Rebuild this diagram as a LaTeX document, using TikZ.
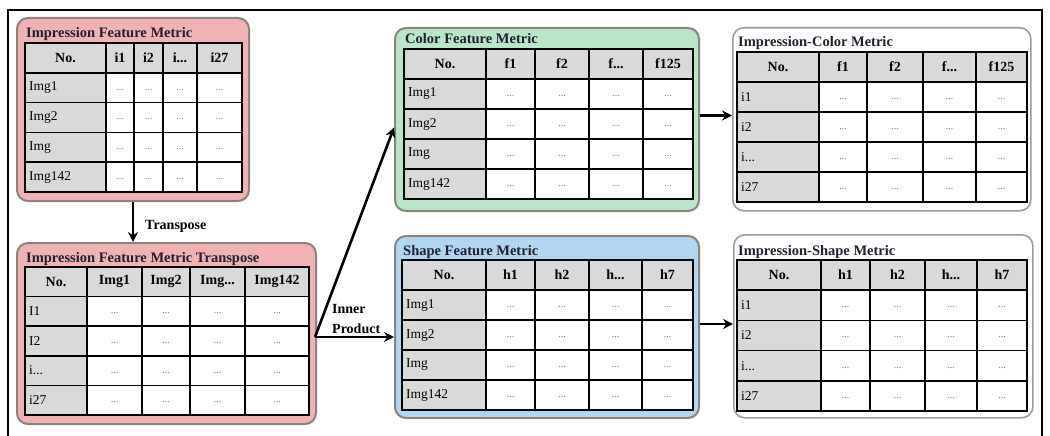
\documentclass[tikz,border=0pt]{standalone}
\usepackage{fontspec}
\setmainfont{Liberation Serif}
\usetikzlibrary{arrows.meta}
\definecolor{cellgray}{HTML}{D9D9D9}
\definecolor{pinkf}{HTML}{F2B2B4}
\definecolor{greenf}{HTML}{B9E5C8}
\definecolor{bluef}{HTML}{B0D6F1}
\definecolor{pborder}{HTML}{8C837E}
\definecolor{wborder}{HTML}{A29A95}
\definecolor{titlec}{HTML}{202030}
\tikzset{
 panel/.style={draw=pborder, line width=2pt, rounded corners=11pt, anchor=north west, inner sep=0pt},
 wpanel/.style={panel, draw=wborder, line width=1.6pt, fill=white},
 tline/.style={line width=1.6pt, black},
 hd/.style={font=\bfseries\fontsize{14}{14}\selectfont, inner sep=0pt},
 rl/.style={font=\fontsize{13.5}{13.5}\selectfont, inner sep=0pt, anchor=west},
 dotc/.style={font=\fontsize{10}{10}\selectfont, text=black!55, inner sep=0pt},
 ttl/.style={font=\bfseries\fontsize{14.5}{14.5}\selectfont, text=titlec, inner sep=0pt, anchor=base west},
 arr/.style={line width=2.6pt, -{Stealth[length=10pt,width=10pt]}},
 lbl/.style={font=\bfseries\fontsize{14}{20}\selectfont, inner sep=0pt, align=left},
 frame/.style={line width=2pt, black},
}
% table grid: x0..x5, y0, y5
\newcommand\tgrid[8]{%
 \gdef\Xa{#1}\gdef\Xb{#2}\gdef\Xc{#3}\gdef\Xd{#4}\gdef\Xe{#5}\gdef\Xf{#6}\gdef\Ya{#7}%
 \pgfmathsetmacro\Htmp{(#8-#7)/5}\global\let\Hh\Htmp
 \fill[white] (#1,#7) rectangle (#6,#8);
 \fill[cellgray] (#1,#7) rectangle (#6,{#7+\Hh});
 \fill[cellgray] (#1,#7) rectangle (#2,#8);
 \foreach \x in {#2,#3,#4,#5} \draw[tline] (\x,#7) -- (\x,#8);
 \foreach \k in {1,2,3,4} \draw[tline] (#1,{#7+\k*\Hh}) -- (#6,{#7+\k*\Hh});
 \draw[tline] (#1,#7) rectangle (#6,#8);
 \foreach \a/\b in {#2/#3,#3/#4,#4/#5,#5/#6}
   \foreach \k in {1,2,3,4}
     \node[dotc] at ({(\a+\b)/2},{#7+(\k+0.5)*\Hh+2}) {...};
}
\newcommand\thead[5]{%
 \node[hd] at ({(\Xa+\Xb)/2},{\Ya+\Hh/2}) {#1};
 \node[hd] at ({(\Xb+\Xc)/2},{\Ya+\Hh/2}) {#2};
 \node[hd] at ({(\Xc+\Xd)/2},{\Ya+\Hh/2}) {#3};
 \node[hd] at ({(\Xd+\Xe)/2},{\Ya+\Hh/2}) {#4};
 \node[hd] at ({(\Xe+\Xf)/2},{\Ya+\Hh/2}) {#5};
}
\newcommand\trows[4]{%
 \node[rl] at ({\Xa+4},{\Ya+1.5*\Hh}) {#1};
 \node[rl] at ({\Xa+4},{\Ya+2.5*\Hh}) {#2};
 \node[rl] at ({\Xa+4},{\Ya+3.5*\Hh}) {#3};
 \node[rl] at ({\Xa+4},{\Ya+4.5*\Hh}) {#4};
}
\begin{document}
\begin{tikzpicture}[x=1pt,y=-1pt]
\useasboundingbox (0,0) rectangle (1050,436);
% outer frame
\draw[frame] (8,437) -- (8,10) -- (1042,10) -- (1042,437);

% panel 1
\node[panel, fill=pinkf, minimum width=232pt, minimum height=183pt] (p1) at (16,17) {};
\tgrid{25}{106}{134}{163}{197}{242}{43}{192}
\thead{No.}{i1}{i2}{i...}{i27}
\trows{Img1}{Img2}{Img}{Img142}
\node[ttl] (t1) at (26,38) {Impression Feature Metric};

% panel 2
\node[panel, fill=pinkf, minimum width=299pt, minimum height=181pt] (p2) at (16,242) {};
\tgrid{25}{87}{142}{190}{245}{309}{267}{415}
\thead{No.}{Img1}{Img2}{Img...}{Img142}
\trows{I1}{I2}{i...}{i27}
\node[ttl] (t2) at (26,262) {Impression Feature Metric Transpose};

% panel 3
\node[panel, fill=greenf, minimum width=304pt, minimum height=183pt] (p3) at (394,27) {};
\tgrid{404}{486}{535}{589}{643}{693}{49}{199}
\thead{No.}{f1}{f2}{f...}{f125}
\trows{Img1}{Img2}{Img}{Img142}
\node[ttl] (t3) at (405,44) {Color Feature Metric};

% panel 4
\node[wpanel, minimum width=298pt, minimum height=183pt] (p4) at (732,27) {};
\tgrid{737}{819}{867}{923}{976}{1027}{52}{202}
\thead{No.}{f1}{f2}{f...}{f125}
\trows{i1}{i2}{i...}{i27}
\node[ttl] (t4) at (738,47) {Impression-Color Metric};

% panel 5
\node[panel, fill=bluef, minimum width=304pt, minimum height=182pt] (p5) at (394,235) {};
\tgrid{402}{486}{535}{589}{642}{693}{260}{410}
\thead{No.}{h1}{h2}{h...}{h7}
\trows{Img1}{Img2}{Img}{Img142}
\node[ttl] (t5) at (403,255) {Shape Feature Metric};

% panel 6
\node[wpanel, minimum width=299pt, minimum height=183pt] (p6) at (733,234) {};
\tgrid{737}{821}{870}{925}{977}{1027}{260}{411}
\thead{No.}{h1}{h2}{h...}{h7}
\trows{i1}{i2}{i...}{i27}
\node[ttl] (t6) at (738,255) {Impression-Shape Metric};

% connectors
\draw[arr] (p1.south) -- (p1.south |- p2.north);
\node[lbl, anchor=base west] (ltr) at (145,229) {Transpose};

\coordinate (ip) at (315,337);
\draw[arr] (ip) -- ([yshift=-8pt]p3.west);
\draw[arr] (ip) -- (ip -| p5.west);
\node[lbl, anchor=base west] (lip) at (332,333) {Inner\\Product};

\draw[arr] ([yshift=4pt]p3.east) -- ([yshift=4pt]p3.east -| p4.west);
\draw[arr] ([yshift=3pt]p5.east) -- ([yshift=3pt]p5.east -| p6.west);
\end{tikzpicture}
\end{document}
